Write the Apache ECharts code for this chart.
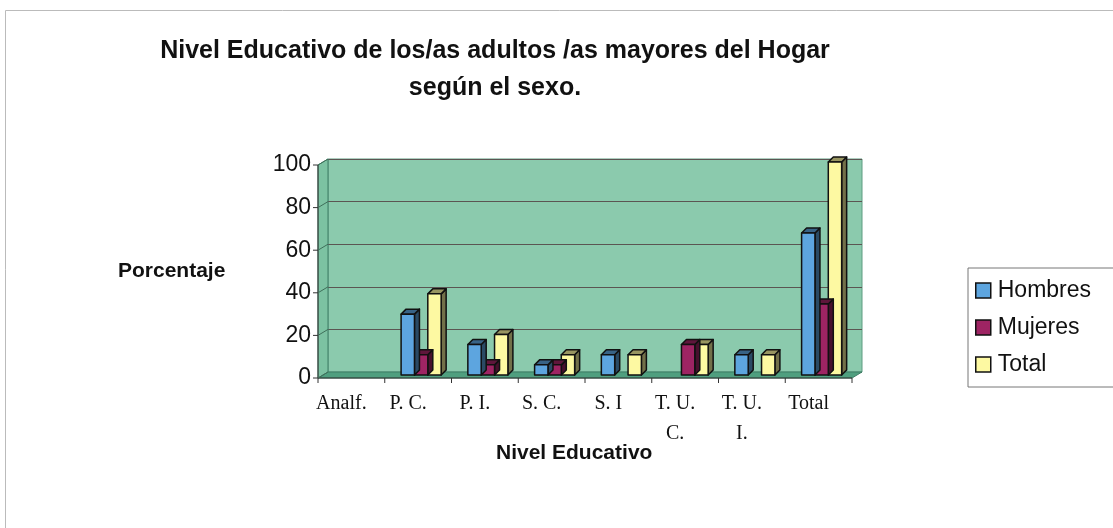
<!DOCTYPE html>
<html>
<head>
<meta charset="utf-8">
<script src="https://cdn.jsdelivr.net/npm/echarts@6/dist/echarts.min.js"></script>
<style>
  html, body { margin: 0; padding: 0; background: #fff; }
  #chart { width: 1113px; height: 528px; }
</style>
</head>
<body>
<div id="chart"></div>
<script>
// nivel educativo - porcentajes por sexo
const categories = ["Analf.", "P. C.", "P. I.", "S. C.", "S. I", "T. U.\nC.", "T. U.\nI.", "Total"];
const hombres = [0, 28.57, 14.29, 4.76, 9.52, 0, 9.52, 66.67];
const mujeres = [0, 9.52, 4.76, 4.76, 0, 14.29, 0, 33.33];
const total = [0, 38.1, 19.05, 9.52, 9.52, 14.29, 9.52, 100];
const yTicks = [0, 20, 40, 60, 80, 100];

const chart = echarts.init(document.getElementById("chart"));

const DX = 10, DY = 6; // profundidad del "3D"

// caja: suelo, pared izquierda, eje frontal, marcas y etiquetas del eje Y
const frameRender = (params, api) => {
  const band = api.size([1, 0])[0];
  const b0 = api.coord([0, 0]);
  const bN = api.coord([categories.length - 1, 0]);
  const t0 = api.coord([0, yTicks[yTicks.length - 1]]);
  const left = b0[0] - band / 2, right = bN[0] + band / 2;
  const base = b0[1], top = t0[1];
  const ln = { stroke: "#333", lineWidth: 1 };
  const kids = [
    {
      type: "polygon",
      shape: { points: [[left - DX, base + DY], [right - DX, base + DY], [right, base], [left, base]] },
      style: { fill: "#4f9f7f", stroke: "#3f7f66", lineWidth: 1 }
    },
    {
      type: "polygon",
      shape: { points: [[left - DX, top + DY], [left, top], [left, base], [left - DX, base + DY]] },
      style: { fill: "#7cc2a2", stroke: "#3f7f66", lineWidth: 1 }
    },
    { type: "line", shape: { x1: left - DX, y1: top + DY, x2: left - DX, y2: base + DY }, style: ln },
    { type: "line", shape: { x1: left - DX, y1: base + DY, x2: right - DX, y2: base + DY }, style: ln }
  ];
  yTicks.forEach(t => {
    const y = api.coord([0, t])[1];
    kids.push({ type: "line", shape: { x1: left - DX - 5, y1: y + DY, x2: left - DX, y2: y + DY }, style: ln });
    kids.push({ type: "line", shape: { x1: left - DX, y1: y + DY, x2: left, y2: y }, style: { stroke: "#3f6f5a", lineWidth: 1 } });
    kids.push({
      type: "text",
      x: left - DX - 7,
      y: y + DY,
      style: { text: String(t), align: "right", verticalAlign: "middle", font: "23px 'Liberation Sans'", fill: "#111" }
    });
  });
  for (let i = 0; i <= categories.length; i++) {
    const x = left + i * band - DX;
    kids.push({ type: "line", shape: { x1: x, y1: base + DY, x2: x, y2: base + DY + 5 }, style: ln });
  }
  return { type: "group", children: kids };
};

const darken = (hex, f) => {
  const n = parseInt(hex.slice(1), 16);
  const r = Math.round(((n >> 16) & 255) * f), g = Math.round(((n >> 8) & 255) * f), b = Math.round((n & 255) * f);
  return "rgb(" + r + "," + g + "," + b + ")";
};

const makeBar = (idx, color) => (params, api) => {
  const c = api.value(0), v = api.value(1);
  if (!v) return;
  const band = api.size([1, 0])[0];
  const bw = band * 0.2;
  const d = 5;
  const base = api.coord([c, 0]);
  const topP = api.coord([c, v]);
  const x0 = base[0] - 1.5 * bw + idx * bw - 7;
  const yb = base[1] + 3, yt = topP[1] + 3;
  const st = { stroke: "#111", lineWidth: 1.5, lineJoin: "round" };
  return {
    type: "group",
    children: [
      { type: "polygon", shape: { points: [[x0 + bw, yt], [x0 + bw + d, yt - d], [x0 + bw + d, yb - d], [x0 + bw, yb]] },
        style: Object.assign({ fill: darken(color, 0.45) }, st) },
      { type: "polygon", shape: { points: [[x0, yt], [x0 + d, yt - d], [x0 + bw + d, yt - d], [x0 + bw, yt]] },
        style: Object.assign({ fill: darken(color, 0.6) }, st) },
      { type: "rect", shape: { x: x0, y: yt, width: bw, height: yb - yt },
        style: Object.assign({ fill: color }, st) }
    ]
  };
};

const colH = "#5da5df", colM = "#9e2463", colT = "#fdf9a2";
const toData = arr => arr.map((v, i) => [i, v]);

const option = {
  animation: false,
  backgroundColor: "#fff",
  title: {
    text: "Nivel Educativo de los/as adultos /as mayores del Hogar\nsegún el sexo.",
    left: 490,
    top: 28,
    textAlign: "center",
    textStyle: { fontFamily: "Liberation Sans", fontSize: 25, fontWeight: "bold", color: "#111", lineHeight: 37 }
  },
  graphic: [
    { type: "rect", left: 3, top: 8, shape: { width: 1115, height: 530 }, style: { fill: "none", stroke: "#bbb", lineWidth: 1 }, silent: true },
    { type: "text", left: 118, top: 261, style: { text: "Porcentaje", font: "bold 21px 'Liberation Sans'", fill: "#111" } },
    { type: "text", left: 496, top: 443, style: { text: "Nivel Educativo", font: "bold 21px 'Liberation Sans'", fill: "#111" } }
  ],
  legend: {
    orient: "vertical",
    left: 968,
    top: 268,
    itemWidth: 15,
    itemHeight: 15,
    itemGap: 14,
    padding: [11, 40, 11, 7],
    borderColor: "#777",
    borderWidth: 1,
    icon: "rect",
    textStyle: { fontFamily: "Liberation Sans", fontSize: 23, color: "#111", padding: [0, 0, 0, 2] },
    itemStyle: { borderColor: "#111", borderWidth: 1.5 },
    data: ["Hombres", "Mujeres", "Total"]
  },
  grid: {
    left: 328,
    top: 159,
    right: 251,
    bottom: 156,
    show: true,
    backgroundColor: "#8bcaad",
    borderColor: "#5c9c80",
    borderWidth: 1
  },
  xAxis: {
    type: "category",
    data: categories,
    axisLine: { show: false },
    axisTick: { show: false },
    axisLabel: {
      interval: 0,
      hideOverlap: false,
      fontFamily: "Liberation Serif",
      fontSize: 20,
      color: "#111",
      margin: 17,
      lineHeight: 30,
      verticalAlign: "top",
      align: "center",
      padding: [0, 40, 0, 0]
    }
  },
  yAxis: {
    type: "value",
    min: 0,
    max: 100,
    interval: 20,
    axisLine: { show: false },
    axisTick: { show: false },
    axisLabel: { show: false },
    splitLine: { show: true, lineStyle: { color: "#5b5552", width: 1.2 } }
  },
  series: [
    { type: "custom", name: "frame", renderItem: frameRender, data: [[0, 0]], silent: true, z: 1 },
    { type: "custom", name: "Hombres", renderItem: makeBar(0, colH), data: toData(hombres), itemStyle: { color: colH }, z: 5 },
    { type: "custom", name: "Mujeres", renderItem: makeBar(1, colM), data: toData(mujeres), itemStyle: { color: colM }, z: 4 },
    { type: "custom", name: "Total", renderItem: makeBar(2, colT), data: toData(total), itemStyle: { color: colT }, z: 3 }
  ]
};

chart.setOption(option);
</script>
</body>
</html>
